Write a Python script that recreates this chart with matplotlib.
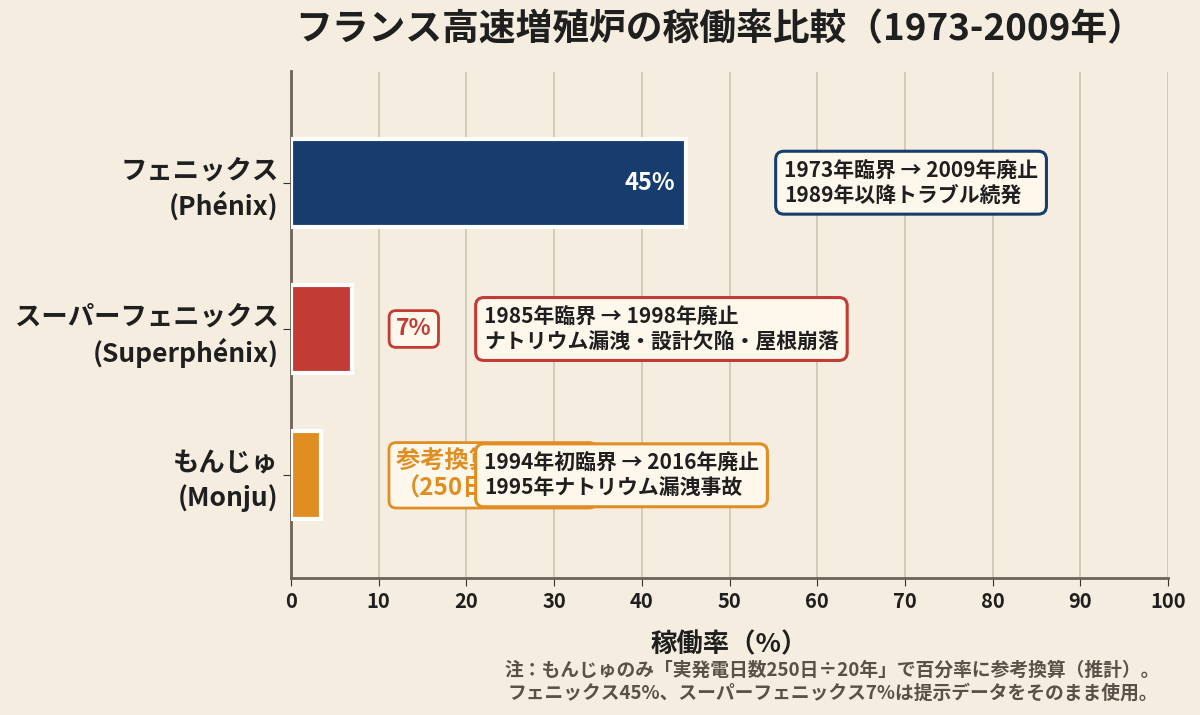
import matplotlib.pyplot as plt

plt.rcParams['font.family'] = ['Noto Sans CJK JP', 'DejaVu Sans']

# data
reactors = ['フェニックス\n(Phénix)', 'スーパーフェニックス\n(Superphénix)', 'もんじゅ\n(Monju)']
rates = [45, 7, 3.4]
bar_colors = ['#173d6f', '#c23b34', '#e08e22']
notes = [
    '1973年臨界 → 2009年廃止\n1989年以降トラブル続発',
    '1985年臨界 → 1998年廃止\nナトリウム漏洩・設計欠陥・屋根崩落',
    '1994年初臨界 → 2016年廃止\n1995年ナトリウム漏洩事故',
]
note_x = [56.2, 22.0, 22.0]
xticks = list(range(0, 101, 10))

BG = '#f5eee0'
TEXT = '#1f1f1f'

fig = plt.figure(figsize=(12, 7.15), dpi=100, facecolor=BG)
ax = fig.add_axes([0.2425, 0.192, 0.731, 0.708])
ax.set_facecolor(BG)

y = list(range(len(reactors)))
ax.barh(y, rates, height=0.6, color=bar_colors, edgecolor='white', linewidth=3, zorder=3)

ax.set_xlim(0, 100)
ax.set_ylim(2.7, -0.76)
ax.set_xticks(xticks)
ax.set_yticks(y)
ax.set_yticklabels(reactors, fontsize=19, fontweight='bold', color=TEXT, linespacing=1.3)
ax.tick_params(axis='x', labelsize=14.5, length=6, colors='#333333')
for lab in ax.get_xticklabels():
    lab.set_fontweight('bold')
    lab.set_color(TEXT)
ax.tick_params(axis='y', length=6, color='#333333', pad=3)

ax.grid(axis='x', color='#cdc4b2', linewidth=1.2, zorder=0)
ax.set_axisbelow(True)
for side in ['top', 'right']:
    ax.spines[side].set_visible(False)
ax.spines['left'].set_color('#6b6359')
ax.spines['left'].set_linewidth(2)
ax.spines['bottom'].set_color('#6b6359')
ax.spines['bottom'].set_linewidth(2)

ax.set_xlabel('稼働率（%）', fontsize=19, fontweight='bold', color=TEXT, labelpad=14)

# value labels
ax.text(rates[0] - 1.2, 0, f'{rates[0]:.0f}%', ha='right', va='center',
        fontsize=17, fontweight='bold', color='white', zorder=4)
ax.text(14, 1, f'{rates[1]:.0f}%', ha='center', va='center',
        fontsize=16.5, fontweight='bold', color=bar_colors[1], zorder=4,
        bbox=dict(boxstyle='round,pad=0.3', fc='#fdf7ec', ec=bar_colors[1], lw=2))
ax.text(12, 2, '参考換算 約3.4%\n（250日÷20年）', ha='left', va='center',
        fontsize=17.5, fontweight='bold', color=bar_colors[2], zorder=4, linespacing=1.15,
        bbox=dict(boxstyle='round,pad=0.3', fc='#fdf7ec', ec=bar_colors[2], lw=2))

# notes
for i, (txt, nx) in enumerate(zip(notes, note_x)):
    ax.text(nx, i, txt, ha='left', va='center', fontsize=15, fontweight='bold',
            color=TEXT, zorder=5, linespacing=1.25,
            bbox=dict(boxstyle='round,pad=0.4', fc='#fdf7ec', ec=bar_colors[i], lw=2.2))

fig.text(0.6, 0.958, 'フランス高速増殖炉の稼働率比較（1973-2009年）', ha='center', va='center',
         fontsize=26.5, fontweight='bold', color=TEXT)

fig.text(0.967, 0.047, '注：もんじゅのみ「実発電日数250日÷20年」で百分率に参考換算（推計）。\n'
         'フェニックス45%、スーパーフェニックス7%は提示データをそのまま使用。',
         ha='right', va='center', fontsize=13.5, fontweight='bold', color='#5a5047',
         linespacing=1.25, multialignment='center')

fig.savefig('out.png', dpi=100, facecolor=BG)
